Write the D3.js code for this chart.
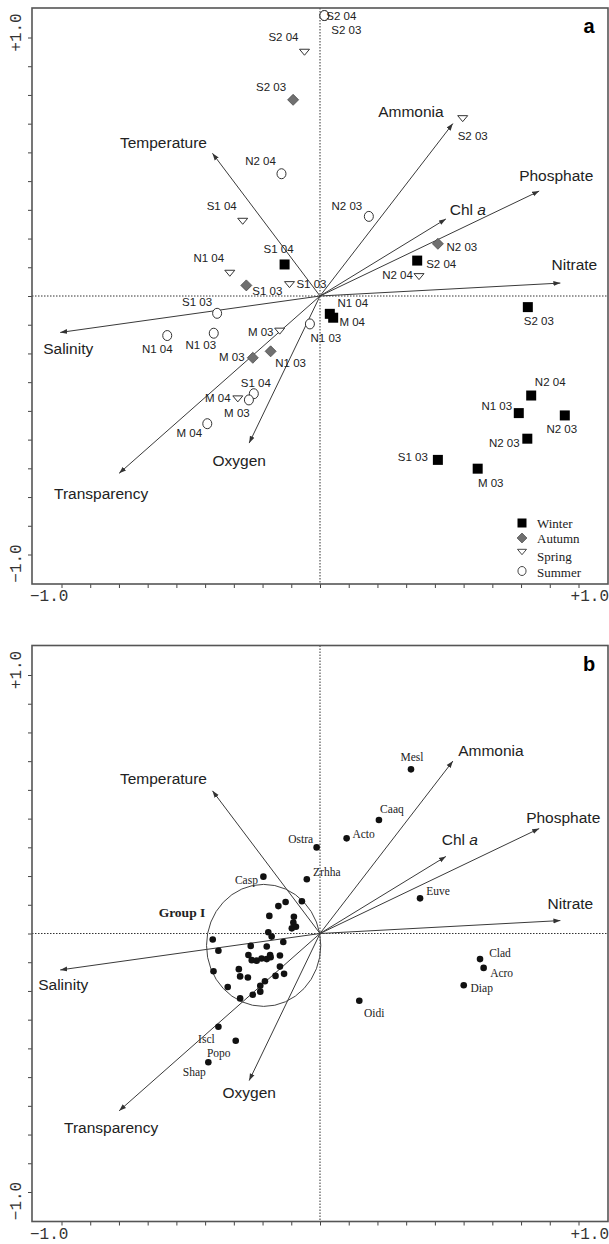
<!DOCTYPE html>
<html>
<head>
<meta charset="utf-8">
<script src="https://cdn.jsdelivr.net/npm/d3@7"></script>
<style>
  body { margin: 0; background: #fff; }
  svg { display: block; }
</style>
</head>
<body>
<div id="chart"></div>
<script>
// page and panel sizes
const PAGE_WIDTH = 609;
const PAGE_HEIGHT = 1244;
const PANEL_LEFT = 32;
const PANEL_SIZE = 576;
const PANEL_TOPS = [8, 645.5];
const AXIS_MAX = 288 / 258.5; // axes run a little past +/-1.0

// environmental variables (arrow tips)
const envNames = ["Temperature", "Ammonia", "Phosphate", "Chl a", "Nitrate", "Salinity", "Oxygen", "Transparency"];
const envX = [-0.416, 0.514, 0.848, 0.487, 0.930, -1.005, -0.274, -0.777];
const envY = [0.552, 0.667, 0.406, 0.298, 0.050, -0.141, -0.569, -0.686];

// sampling sites (panel a)
const seasons = ["Winter", "Autumn", "Spring", "Summer"];
const siteNames = [
  "S1 04", "S2 04", "N1 04", "M 04", "S2 03", "N2 04", "N1 03", "N2 03", "N2 03", "S1 03", "M 03",
  "S2 03", "N2 03", "S1 03", "M 03", "N1 03",
  "S2 04", "S2 03", "S1 04", "N1 04", "S1 03", "N2 04", "M 03", "M 04",
  "S2 04", "S2 03", "N2 04", "N2 03", "S1 03", "N1 04", "N1 03", "N1 03", "S1 04", "M 03", "M 04"
];
const siteSeason = [
  "Winter", "Winter", "Winter", "Winter", "Winter", "Winter", "Winter", "Winter", "Winter", "Winter", "Winter",
  "Autumn", "Autumn", "Autumn", "Autumn", "Autumn",
  "Spring", "Spring", "Spring", "Spring", "Spring", "Spring", "Spring", "Spring",
  "Summer", "Summer", "Summer", "Summer", "Summer", "Summer", "Summer", "Summer", "Summer", "Summer", "Summer"
];
const siteX = [
  -0.137, 0.376, 0.038, 0.051, 0.804, 0.817, 0.769, 0.947, 0.802, 0.456, 0.610,
  -0.104, 0.456, -0.285, -0.260, -0.191,
  -0.060, 0.552, -0.299, -0.349, -0.118, 0.383, -0.156, -0.318,
  0.017, 0.017, -0.149, 0.189, -0.398, -0.591, -0.411, -0.039, -0.256, -0.275, -0.436
];
const siteY = [
  0.122, 0.137, -0.069, -0.084, -0.043, -0.385, -0.453, -0.462, -0.552, -0.634, -0.668,
  0.759, 0.202, 0.041, -0.239, -0.214,
  0.943, 0.686, 0.289, 0.088, 0.044, 0.075, -0.136, -0.398,
  1.085, 1.085, 0.473, 0.308, -0.067, -0.153, -0.144, -0.108, -0.378, -0.402, -0.494
];

// species (panel b), unnamed dots belong to Group I
const speciesNames = [
  "Mesl", "Caaq", "Acto", "Ostra", "Zrhha", "Euve", "Casp", "Clad", "Acro", "Diap", "Oidi", "Iscl", "Popo", "Shap",
  "", "", "", "", "", "", "", "", "", "", "", "", "", "", "", "", "", "",
  "", "", "", "", "", "", "", "", "", "", "", "", "", "", "", "", "", ""
];
const speciesX = [
  0.352, 0.228, 0.103, -0.013, -0.051, 0.387, -0.219, 0.619, 0.633, 0.556, 0.152, -0.393, -0.326, -0.432,
  -0.161, -0.133, -0.070, -0.196, -0.101, -0.103, -0.109, -0.093, -0.200, -0.187, -0.415, -0.142,
  -0.393, -0.268, -0.206, -0.277, -0.193, -0.155, -0.264, -0.245, -0.226, -0.206, -0.191, -0.412,
  -0.314, -0.309, -0.279, -0.155, -0.139, -0.172, -0.213, -0.231, -0.231, -0.260, -0.357, -0.309
];
const speciesY = [
  0.635, 0.439, 0.368, 0.333, 0.210, 0.136, 0.220, -0.099, -0.133, -0.200, -0.260, -0.361, -0.415, -0.498,
  0.106, 0.122, 0.125, 0.068, 0.065, 0.042, 0.020, 0.026, 0.005, -0.012, -0.023, -0.033,
  -0.067, -0.048, -0.050, -0.083, -0.083, -0.085, -0.103, -0.105, -0.097, -0.099, -0.092, -0.146,
  -0.138, -0.166, -0.170, -0.128, -0.156, -0.164, -0.185, -0.202, -0.225, -0.237, -0.207, -0.251
];
const groupICenter = [-0.218, -0.046];
const groupIRadius = [0.221, 0.236];

// label placement, pixel offsets from the mark
const envLabelOffsetsA = [[-49, -11], [-42, -12], [17, -16], [22, -10], [14, -19], [8, 16], [-10, 17], [-18, 20]];
const envLabelOffsetsB = [[-49, -12], [38, -11], [24, -11.5], [14, -17], [10, -17], [3, 15], [0, 12], [-8, 17]];
const siteLabelOffsets = [
  [-6, -15.5], [24, 3], [23, -11], [19, 4], [11, 14], [19, -14], [-22, -7], [-3, 14], [-23, 4], [-25, -3], [13, 14],
  [-22, -13], [24, 3], [21, 6], [-21, -1], [20, 12],
  [-21, -15], [10, 17], [-21, -15], [-21, -15], [22, -1], [-21.5, -1.5], [-19, 1], [-20, -1],
  [17, 0], [22, 14], [-21, -13], [-22, -10], [-20, -11], [-10, 13], [-13, 12], [16, 14], [2, -11], [-12, 13], [-18, 9]
];
const speciesLabelOffsets = [[1, -12], [13, -11], [17, -4], [-16, -8], [20, -7], [18, -7], [-17, 3],
  [20, -6], [18, 5], [18, 3], [15, 12], [-12, 12], [-17, 12], [-14, 10]];

var svg, x, y;

setup();

function setup() {
  svg = d3.select("#chart")
    .append("svg")
    .attr("width", PAGE_WIDTH)
    .attr("height", PAGE_HEIGHT)
    .style("background", "#fff");

  svg.append("defs").append("marker")
    .attr("id", "arrow")
    .attr("viewBox", "0 -3 7 6")
    .attr("refX", 7)
    .attr("refY", 0)
    .attr("markerWidth", 7)
    .attr("markerHeight", 6)
    .attr("markerUnits", "userSpaceOnUse")
    .attr("orient", "auto")
    .append("path")
    .attr("d", "M0,-2.5L7,0L0,2.5Z")
    .attr("fill", "#333");

  x = d3.scaleLinear().domain([-AXIS_MAX, AXIS_MAX]).range([0, PANEL_SIZE]);
  y = d3.scaleLinear().domain([-AXIS_MAX, AXIS_MAX]).range([PANEL_SIZE, 0]);

  let gA = drawPanel(PANEL_TOPS[0], "a", envLabelOffsetsA);
  drawSites(gA);
  drawLegend(gA);

  let gB = drawPanel(PANEL_TOPS[1], "b", envLabelOffsetsB);
  drawSpecies(gB);
}

/**
 * frame, ticks, zero lines and environmental arrows
 */
function drawPanel(top, letter, labelOffsets) {
  let g = svg.append("g").attr("transform", "translate(" + PANEL_LEFT + "," + top + ")");
  let ticks = d3.range(-9, 10).map(function (k) { return k / 9; });

  let gx = g.append("g").attr("transform", "translate(0," + PANEL_SIZE + ")")
    .call(d3.axisBottom(x).tickValues(ticks).tickSize(4).tickFormat(""));
  let gy = g.append("g")
    .call(d3.axisLeft(y).tickValues(ticks).tickSize(4).tickFormat(""));
  [gx, gy].forEach(function (a) {
    a.select(".domain").remove();
    a.selectAll("line").attr("stroke", "#444");
  });

  // zero lines
  g.append("line")
    .attr("x1", 0).attr("x2", PANEL_SIZE)
    .attr("y1", y(0)).attr("y2", y(0))
    .attr("stroke", "#333").attr("stroke-width", 1).attr("stroke-dasharray", "1.5,1.5");
  g.append("line")
    .attr("x1", x(0)).attr("x2", x(0))
    .attr("y1", 0).attr("y2", PANEL_SIZE)
    .attr("stroke", "#333").attr("stroke-width", 1).attr("stroke-dasharray", "1.5,1.5");

  g.append("rect")
    .attr("width", PANEL_SIZE)
    .attr("height", PANEL_SIZE)
    .attr("fill", "none")
    .attr("stroke", "#555")
    .attr("stroke-width", 1.6);

  // +/-1.0 labels
  let mono = "'Liberation Mono', 'DejaVu Sans Mono', monospace";
  g.append("text")
    .attr("transform", "translate(-15," + (y(1) - 5) + ") rotate(-90)")
    .attr("text-anchor", "middle").attr("dominant-baseline", "central")
    .style("font-family", mono).style("font-size", "16px").attr("fill", "#333")
    .text("+1.0");
  g.append("text")
    .attr("transform", "translate(-15," + (y(-1) + 9) + ") rotate(-90)")
    .attr("text-anchor", "middle").attr("dominant-baseline", "central")
    .style("font-family", mono).style("font-size", "16px").attr("fill", "#333")
    .text("\u22121.0");
  g.append("text")
    .attr("x", -2).attr("y", PANEL_SIZE + 13)
    .attr("text-anchor", "start").attr("dominant-baseline", "central")
    .style("font-family", mono).style("font-size", "16px").attr("fill", "#333")
    .text("\u22121.0");
  g.append("text")
    .attr("x", PANEL_SIZE + 1).attr("y", PANEL_SIZE + 13)
    .attr("text-anchor", "end").attr("dominant-baseline", "central")
    .style("font-family", mono).style("font-size", "16px").attr("fill", "#333")
    .text("+1.0");

  g.append("text")
    .attr("x", PANEL_SIZE - 19).attr("y", 18)
    .attr("text-anchor", "middle").attr("dominant-baseline", "central")
    .style("font-family", "'Liberation Sans', Arial, sans-serif")
    .style("font-size", "20px").style("font-weight", "bold")
    .text(letter);

  // arrows
  g.selectAll(".env")
    .data(envNames)
    .enter()
    .append("line")
    .attr("x1", x(0)).attr("y1", y(0))
    .attr("x2", function (d, i) { return x(envX[i]); })
    .attr("y2", function (d, i) { return y(envY[i]); })
    .attr("stroke", "#3a3a3a")
    .attr("stroke-width", 1)
    .attr("marker-end", "url(#arrow)");

  let labels = g.selectAll(".envLabel")
    .data(envNames)
    .enter()
    .append("text")
    .attr("x", function (d, i) { return x(envX[i]) + labelOffsets[i][0]; })
    .attr("y", function (d, i) { return y(envY[i]) + labelOffsets[i][1]; })
    .attr("text-anchor", "middle")
    .attr("dominant-baseline", "central")
    .style("font-family", "'Liberation Sans', Arial, sans-serif")
    .style("font-size", "15.5px")
    .attr("fill", "#222");
  labels.each(function (d) {
    let t = d3.select(this);
    if (d === "Chl a") {
      t.append("tspan").text("Chl ");
      t.append("tspan").style("font-style", "italic").text("a");
    } else {
      t.text(d);
    }
  });

  return g;
}

function markerPath(season) {
  if (season === "Winter") return "M-5,-5H5V5H-5Z";
  if (season === "Autumn") return "M0,-5.5L5.5,0L0,5.5L-5.5,0Z";
  if (season === "Spring") return "M-5,-3H5L0,3Z";
  return "M-4.5,0A4.5,5 0 1,0 4.5,0A4.5,5 0 1,0 -4.5,0Z";
}

function markerStyle(sel, season) {
  if (season === "Winter") {
    sel.attr("fill", "#000").attr("stroke", "none");
  } else if (season === "Autumn") {
    sel.attr("fill", "#707070").attr("stroke", "#4a4a4a").attr("stroke-width", 0.8);
  } else {
    sel.attr("fill", "#fff").attr("stroke", "#333").attr("stroke-width", 1);
  }
}

/**
 * panel a: site scores by season
 */
function drawSites(g) {
  g.selectAll(".site")
    .data(siteNames)
    .enter()
    .append("path")
    .attr("transform", function (d, i) { return "translate(" + x(siteX[i]) + "," + y(siteY[i]) + ")"; })
    .attr("d", function (d, i) { return markerPath(siteSeason[i]); })
    .each(function (d, i) { markerStyle(d3.select(this), siteSeason[i]); });

  g.selectAll(".siteLabel")
    .data(siteNames)
    .enter()
    .append("text")
    .attr("x", function (d, i) { return x(siteX[i]) + siteLabelOffsets[i][0]; })
    .attr("y", function (d, i) { return y(siteY[i]) + siteLabelOffsets[i][1]; })
    .attr("text-anchor", "middle")
    .attr("dominant-baseline", "central")
    .style("font-family", "'Liberation Sans', Arial, sans-serif")
    .style("font-size", "11.5px")
    .attr("fill", "#222")
    .text(function (d) { return d; });
}

function drawLegend(g) {
  let markerY = [515, 530, 544, 563];
  let textY = [515, 530, 548.5, 564.5];
  seasons.forEach(function (s, i) {
    g.append("path")
      .attr("transform", "translate(490," + markerY[i] + ") scale(0.9)")
      .attr("d", markerPath(s))
      .call(markerStyle, s);
    g.append("text")
      .attr("x", 505).attr("y", textY[i])
      .attr("dominant-baseline", "central")
      .style("font-family", "'Liberation Serif', 'Times New Roman', serif")
      .style("font-size", "13px")
      .attr("fill", "#222")
      .text(s);
  });
}

/**
 * panel b: species scores and Group I
 */
function drawSpecies(g) {
  g.append("ellipse")
    .attr("cx", x(groupICenter[0]))
    .attr("cy", y(groupICenter[1]))
    .attr("rx", x(groupIRadius[0]) - x(0))
    .attr("ry", y(0) - y(groupIRadius[1]))
    .attr("fill", "none")
    .attr("stroke", "#444")
    .attr("stroke-width", 1);

  g.append("text")
    .attr("x", x(-0.534)).attr("y", y(0.082))
    .attr("text-anchor", "middle").attr("dominant-baseline", "central")
    .style("font-family", "'Liberation Serif', 'Times New Roman', serif")
    .style("font-size", "13.5px").style("font-weight", "bold")
    .attr("fill", "#222")
    .text("Group I");

  g.selectAll(".sp")
    .data(speciesNames)
    .enter()
    .append("circle")
    .attr("cx", function (d, i) { return x(speciesX[i]); })
    .attr("cy", function (d, i) { return y(speciesY[i]); })
    .attr("r", 3.3)
    .attr("fill", "#111");

  g.selectAll(".spLabel")
    .data(speciesNames.filter(function (d) { return d !== ""; }))
    .enter()
    .append("text")
    .attr("x", function (d, i) { return x(speciesX[i]) + speciesLabelOffsets[i][0]; })
    .attr("y", function (d, i) { return y(speciesY[i]) + speciesLabelOffsets[i][1]; })
    .attr("text-anchor", "middle")
    .attr("dominant-baseline", "central")
    .style("font-family", "'Liberation Serif', 'Times New Roman', serif")
    .style("font-size", "11.5px")
    .attr("fill", "#222")
    .text(function (d) { return d; });
}
</script>
</body>
</html>
